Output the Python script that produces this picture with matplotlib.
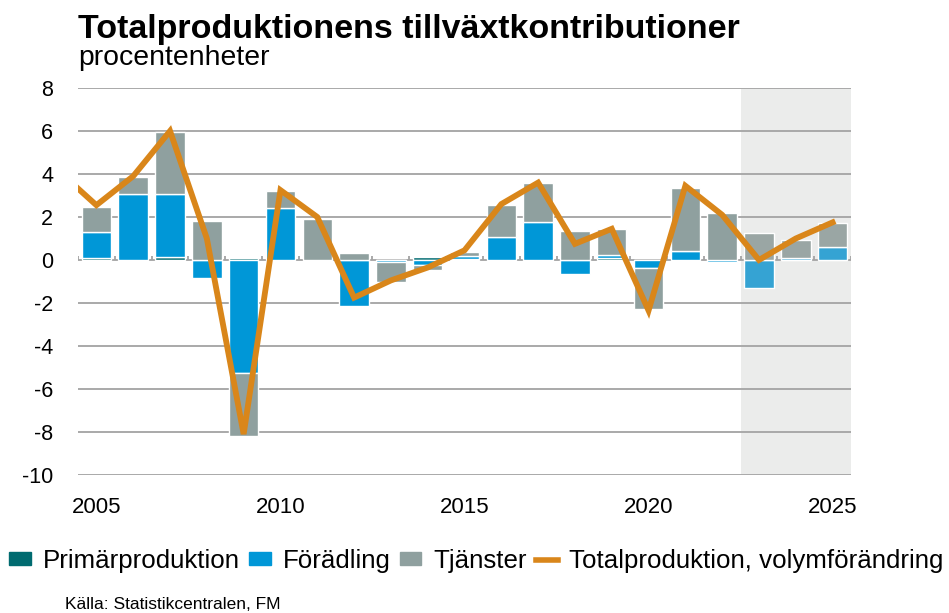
import matplotlib
matplotlib.use("Agg")
import matplotlib.pyplot as plt
import numpy as np
from matplotlib import font_manager
from matplotlib.patches import Patch
from matplotlib.lines import Line2D

# ---- data ----
years = list(range(2005, 2026))
primar = [0.08, 0.02, 0.15, 0.0, 0.1, 0.0, 0.0, 0.0, 0.0, 0.13, 0.05,
          0.0, 0.0, 0.0, 0.1, 0.0, 0.0, 0.0, 0.0, 0.0, 0.0]
foradling = [1.2, 3.05, 2.9, -0.85, -5.25, 2.4, 0.0, -2.15, -0.1, -0.25, 0.12,
             1.05, 1.75, -0.65, 0.12, -0.35, 0.4, -0.08, -1.3, 0.08, 0.6]
tjanster = [1.2, 0.78, 2.9, 1.8, -2.95, 0.8, 1.92, 0.34, -0.9, -0.2, 0.18,
            1.5, 1.85, 1.35, 1.2, -1.95, 2.95, 2.17, 1.25, 0.85, 1.12]
line_years = list(range(2004, 2026))
total = [4.1, 2.55, 3.9, 6.0, 1.0, -8.1, 3.25, 2.0, -1.75, -0.95, -0.35, 0.45,
         2.6, 3.6, 0.75, 1.45, -2.35, 3.45, 2.1, 0.0, 1.0, 1.75]
forecast_start = 2023
x_ticks = [2005, 2010, 2015, 2020, 2025]
y_ticks = list(range(-10, 9, 2))

title = "Totalproduktionens tillväxtkontributioner"
subtitle = "procentenheter"
source = "Källa: Statistikcentralen, FM"
labels = ["Primärproduktion", "Förädling", "Tjänster", "Totalproduktion, volymförändring"]

# ---- fonts ----
names = {f.name for f in font_manager.fontManager.ttflist}
base = "Liberation Sans" if "Liberation Sans" in names else "DejaVu Sans"
plt.rcParams["font.family"] = [base, "DejaVu Sans"]

c_prim = "#006b70"
c_fora = "#0097d7"
c_tjan = "#8fa09f"
c_fora_f = "#35a3d3"
c_tjan_f = "#9aa6a4"
c_line = "#d9861a"

fig = plt.figure(figsize=(9.49, 6.13), dpi=100)
ax = fig.add_axes([78 / 949, 1 - 475 / 613, (851 - 78) / 949, (475 - 88) / 613])

ax.axvspan(forecast_start - 0.5, 2025.5, color="#ebeceb", zorder=0, lw=0)
for yv in y_ticks:
    ax.axhline(yv, color="#a3a3a3", lw=1.3, zorder=1)

yrs = np.array(years)
pos = np.zeros(len(years))
neg = np.zeros(len(years))
for series, col, colf in [(primar, c_prim, c_prim), (foradling, c_fora, c_fora_f), (tjanster, c_tjan, c_tjan_f)]:
    v = np.array(series, dtype=float)
    bottom = np.where(v >= 0, pos, neg)
    cols = [colf if y >= forecast_start else col for y in years]
    ax.bar(yrs, v, 0.8, bottom=bottom, color=cols, edgecolor="white", linewidth=1.0, zorder=2)
    pos = pos + np.where(v > 0, v, 0)
    neg = neg + np.where(v < 0, v, 0)

ax.vlines(np.arange(2004.5, 2026, 1), 0, 0.2, color="#a3a3a3", lw=1.3, zorder=3)
ax.plot(line_years, total, color=c_line, lw=4.2, zorder=4, solid_joinstyle="miter")

ax.set_xlim(2004.5, 2025.5)
ax.set_ylim(-10, 8)
ax.set_yticks(y_ticks)
ax.set_yticklabels([str(t) for t in y_ticks], fontsize=15.5)
ax.set_xticks(x_ticks)
ax.set_xticklabels([str(t) for t in x_ticks], fontsize=16)
ax.tick_params(axis="both", length=0)
ax.tick_params(axis="x", pad=16)
ax.tick_params(axis="y", pad=18)
for s in ax.spines.values():
    s.set_visible(False)

fig.text(78 / 949, 1 - 38 / 613, title, fontsize=24.5, fontweight="bold", ha="left", va="baseline")
fig.text(78 / 949, 1 - 65 / 613, subtitle, fontsize=20.4, ha="left", va="baseline")

handles = [Patch(color=c_prim), Patch(color=c_fora), Patch(color=c_tjan),
           Line2D([0], [0], color=c_line, lw=4)]
fig.legend(handles, labels, loc="center", bbox_to_anchor=(476.5 / 949, 1 - 561 / 613), ncol=4,
           frameon=False, prop={"size": 18.6}, borderpad=0, borderaxespad=0,
           handlelength=0.85, handleheight=0.38, handletextpad=0.45, columnspacing=0.35)
fig.text(65 / 949, 1 - 609 / 613, source, fontsize=12.5, ha="left", va="baseline")

fig.savefig("out.png", dpi=100)
